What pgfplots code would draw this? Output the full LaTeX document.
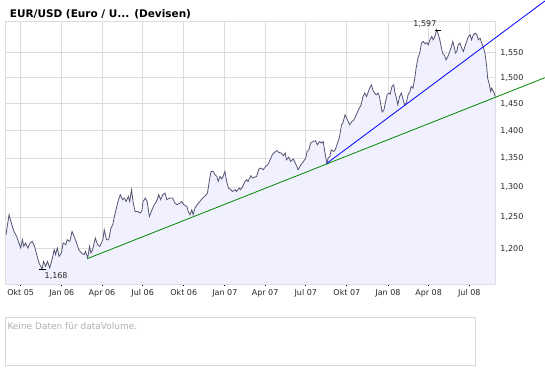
\documentclass[border=0pt]{standalone}
\usepackage{fontspec}
\setmainfont{DejaVu Sans}
\usepackage{pgfplots}
\pgfplotsset{compat=1.18}
\usepackage{pgfplotstable}
\usepgfplotslibrary{fillbetween}
\definecolor{gridc}{RGB}{220,220,220}
\definecolor{fillc}{RGB}{240,240,254}
\definecolor{linec}{RGB}{85,85,115}
\definecolor{trendg}{RGB}{0,136,0}
\definecolor{trendb}{RGB}{0,0,255}
\definecolor{boxc}{RGB}{214,214,214}
\definecolor{txtgray}{RGB}{175,175,175}

\pgfplotstableread{
d v
-33 1.2221
-26 1.2544
-21 1.2409
-15 1.2274
-9 1.2194
-4 1.2090
0 1.2011
4 1.2142
7 1.2036
11 1.2090
16 1.2011
21 1.2090
26 1.2115
31 1.2036
36 1.1907
41 1.1778
48 1.1680
51 1.1803
56 1.1726
60 1.1803
65 1.1702
71 1.1855
75 1.1984
78 1.1907
82 1.2011
86 1.1880
91 1.1933
95 1.2090
101 1.2063
104 1.2142
110 1.2115
115 1.2274
121 1.2169
125 1.2090
130 1.1984
136 1.1933
142 1.1907
145 1.1958
150 1.1855
154 1.2036
157 1.1933
161 1.1984
167 1.2169
172 1.2063
177 1.2036
184 1.2142
187 1.2301
192 1.2142
197 1.2142
202 1.2328
206 1.2381
209 1.2490
215 1.2680
219 1.2792
223 1.2875
228 1.2792
232 1.2820
236 1.2763
241 1.2847
244 1.2763
248 1.2960
252 1.2737
256 1.2598
262 1.2598
267 1.2572
271 1.2598
274 1.2763
279 1.2820
283 1.2763
288 1.2516
294 1.2626
299 1.2709
304 1.2763
309 1.2875
313 1.2792
318 1.2875
323 1.2904
327 1.2792
333 1.2820
340 1.2820
345 1.2737
350 1.2709
357 1.2737
360 1.2763
365 1.2709
372 1.2680
375 1.2598
379 1.2544
383 1.2626
386 1.2544
390 1.2654
395 1.2709
401 1.2763
407 1.2820
412 1.2847
418 1.2904
422 1.3101
426 1.3272
431 1.3272
435 1.3215
439 1.3186
442 1.3101
446 1.3186
450 1.3142
453 1.3186
457 1.3272
461 1.3101
465 1.2988
470 1.2960
474 1.2931
480 1.2960
483 1.2931
489 1.2988
492 1.2960
497 1.3015
502 1.3101
506 1.3130
509 1.3101
515 1.3198
519 1.3159
524 1.3176
528 1.3186
533 1.3314
538 1.3331
543 1.3302
548 1.3359
553 1.3389
560 1.3506
563 1.3565
568 1.3605
573 1.3641
578 1.3605
583 1.3595
588 1.3547
592 1.3595
595 1.3476
600 1.3524
604 1.3447
610 1.3489
613 1.3447
618 1.3359
621 1.3302
627 1.3389
633 1.3447
638 1.3506
641 1.3623
645 1.3653
649 1.3773
655 1.3802
660 1.3815
664 1.3743
669 1.3802
673 1.3773
677 1.3802
680 1.3653
685 1.3413
688 1.3506
692 1.3535
695 1.3653
700 1.3623
704 1.3653
709 1.3773
713 1.3863
718 1.4106
721 1.4137
726 1.4291
733 1.4166
736 1.4106
741 1.4166
746 1.4198
751 1.4291
756 1.4384
762 1.4478
766 1.4636
770 1.4701
774 1.4636
777 1.4701
781 1.4797
785 1.4861
788 1.4764
792 1.4701
796 1.4668
800 1.4701
803 1.4636
806 1.4478
809 1.4341
813 1.4384
816 1.4511
820 1.4668
824 1.4701
827 1.4682
831 1.4828
835 1.4861
837 1.4732
841 1.4605
844 1.4478
848 1.4636
852 1.4701
856 1.4573
859 1.4478
863 1.4511
867 1.4668
871 1.4732
874 1.4828
878 1.4797
882 1.4991
885 1.5188
889 1.5387
893 1.5488
897 1.5691
901 1.5724
905 1.5677
909 1.5703
912 1.5656
916 1.5759
920 1.5827
923 1.5759
927 1.5827
931 1.5970
935 1.5862
938 1.5759
941 1.5622
944 1.5488
948 1.5453
952 1.5353
956 1.5419
959 1.5488
963 1.5589
967 1.5724
970 1.5622
973 1.5488
976 1.5520
979 1.5656
983 1.5691
987 1.5589
991 1.5520
994 1.5622
998 1.5724
1002 1.5827
1006 1.5862
1009 1.5759
1013 1.5862
1017 1.5897
1021 1.5862
1024 1.5759
1028 1.5794
1032 1.5691
1035 1.5622
1039 1.5488
1043 1.5220
1045 1.4991
1048 1.4894
1052 1.4732
1054 1.4797
1058 1.4732
1061 1.4668
1062 1.4636
}\pricedata

\begin{document}
\begin{tikzpicture}[x=1pt,y=1pt]
\node[anchor=base west,inner sep=0pt,font=\bfseries\fontsize{10.5}{12}\selectfont] at (9.7,352.3) {EUR/USD (Euro / U... (Devisen)};
\begin{axis}[
  set layers,
  at={(5pt,86pt)}, anchor=south west,
  scale only axis, width=490.7pt, height=262.5pt,
  xmin=-35.1, xmax=1063.1,
  ymode=log, ymin=1.146, ymax=1.614,
  clip=false,
  xtick={0,92,182,273,365,457,547,638,730,822,913,1004},
  xticklabels={Okt 05,Jan 06,Apr 06,Jul 06,Okt 06,Jan 07,Apr 07,Jul 07,Okt 07,Jan 08,Apr 08,Jul 08},
  ytick={1.2,1.25,1.3,1.35,1.4,1.45,1.5,1.55},
  yticklabels={{1,200},{1,250},{1,300},{1,350},{1,400},{1,450},{1,500},{1,550}},
  yticklabel pos=right,
  xtick pos=bottom,
  minor ytick={},
  grid=major,
  major grid style={draw=gridc, line width=0.9pt},
  axis line style={draw=gridc, line width=0.9pt},
  tick label style={font=\fontsize{8}{9}\selectfont, text=black!85},
  xtick style={draw=black, line width=0.8pt},
  ytick style={draw=none},
  tick align=center,
  major tick length=3.5pt,
  xticklabel style={yshift=-0.5pt},
  yticklabel style={xshift=-0.5pt},
]
\addplot[draw=none, name path=price, forget plot] table[x=d,y=v]{\pricedata};
\addplot[draw=none, name path=floor, forget plot] coordinates {(-33,1.146) (1062,1.146)};
\addplot[fillc, on layer=axis background] fill between[of=price and floor];
\addplot[linec, line width=0.8pt] table[x=d,y=v]{\pricedata};
\addplot[trendg, line width=0.8pt] coordinates {(149,1.1845) (1173.5,1.5)};
\addplot[trendb, line width=0.8pt] coordinates {(685,1.3413) (1173.5,1.658)};
\draw[black, line width=0.9pt] (axis cs:41,1.168) -- (axis cs:56,1.168);
\node[anchor=north west, inner sep=1pt, font=\fontsize{8}{9}\selectfont, text=black!85] at (axis cs:51,1.165) {1,168};
\draw[black, line width=0.9pt] (axis cs:927,1.5945) -- (axis cs:941,1.5945);
\node[anchor=south east, inner sep=1pt, font=\fontsize{8}{9}\selectfont, text=black!85] at (axis cs:933,1.598) {1,597};
\end{axis}
\draw[boxc, line width=0.9pt] (5,5) rectangle (475,52.7);
\node[anchor=base west, inner sep=0pt, text=txtgray, font=\fontsize{9}{10}\selectfont] at (7.3,40.7) {Keine Daten für dataVolume.};
\pgfresetboundingbox
\path[use as bounding box] (0,0) rectangle (545,370);
\end{tikzpicture}
\end{document}
